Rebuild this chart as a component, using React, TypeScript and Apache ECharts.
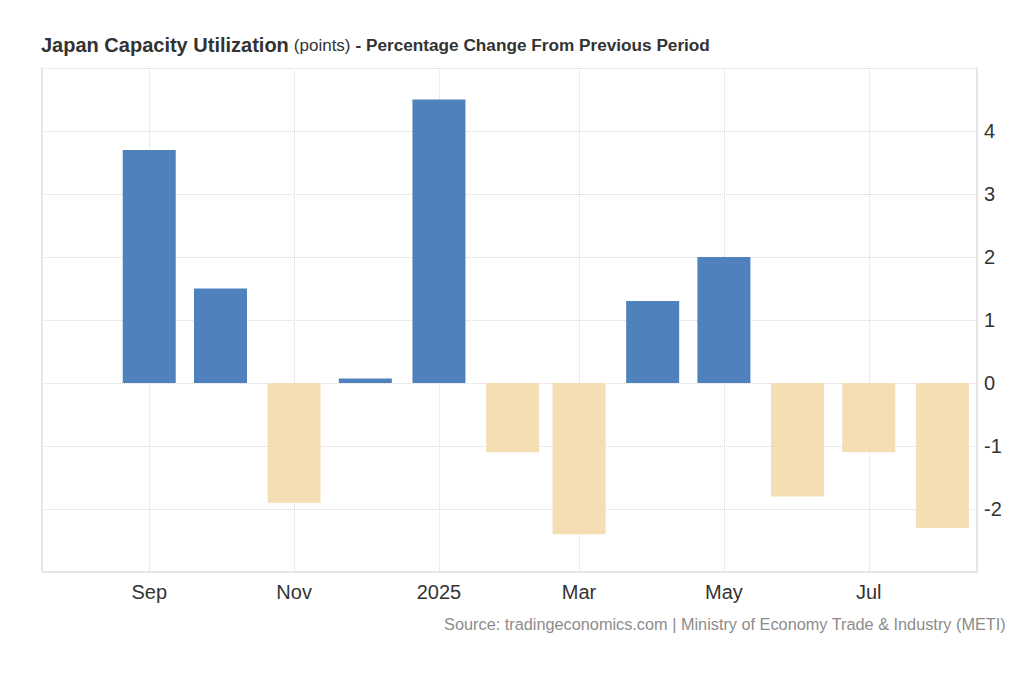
import React, { useEffect, useRef } from "react";
import * as echarts from "echarts";

const months = [
  "2024-09-01", "2024-10-01", "2024-11-01", "2024-12-01",
  "2025-01-01", "2025-02-01", "2025-03-01", "2025-04-01",
  "2025-05-01", "2025-06-01", "2025-07-01", "2025-08-01",
];
const values = [3.7, 1.5, -1.9, 0.07, 4.5, -1.1, -2.4, 1.3, 2.0, -1.8, -1.1, -2.3];
const monthNames = ["Jan", "Feb", "Mar", "Apr", "May", "Jun", "Jul", "Aug", "Sep", "Oct", "Nov", "Dec"];

const POS = "#4f81bd";
const NEG = "#f5deb3";
const FONT = "'Liberation Sans', Arial, sans-serif";

export default function App() {
  const ref = useRef<HTMLDivElement>(null);
  useEffect(() => {
    if (!ref.current) return;
    const chart = echarts.init(ref.current, null, { renderer: "svg" });
    chart.setOption({
      animation: false,
      backgroundColor: "#ffffff",
      textStyle: { fontFamily: FONT },
      title: [
        {
          left: 36,
          top: 30,
          text:
            "{a|Japan Capacity Utilization} {b|(points)} {c|- Percentage Change From Previous Period}",
          textStyle: {
            fontFamily: FONT,
            rich: {
              a: { fontSize: 20, fontWeight: "bold", color: "#333333", fontFamily: FONT },
              b: { fontSize: 17, fontWeight: "normal", color: "#333333", fontFamily: FONT },
              c: { fontSize: 17.2, fontWeight: "bold", color: "#333333", fontFamily: FONT },
            },
          },
        },
        {
          right: 13,
          top: 611,
          text: "Source: tradingeconomics.com | Ministry of Economy Trade & Industry (METI)",
          textStyle: { fontSize: 16.3, fontWeight: "normal", color: "#8c8c8c", fontFamily: FONT },
        },
      ],
      grid: { left: 42, right: 47, top: 68, bottom: 128 },
      xAxis: {
        type: "time",
        min: "2024-07-29",
        max: "2025-08-04 10:00",
        splitNumber: 6,
        axisLine: { show: true, onZero: false, lineStyle: { color: "#e6e6e6", width: 2 } },
        axisTick: { show: false },
        axisLabel: {
          margin: 10,
          fontSize: 20,
          color: "#333333",
          fontFamily: FONT,
          hideOverlap: false,
          formatter: (v: number) => {
            const d = new Date(v);
            return d.getMonth() === 0 ? String(d.getFullYear()) : monthNames[d.getMonth()];
          },
        },
        splitLine: { show: true, lineStyle: { color: "#d9d9d9", type: "dotted", width: 1 } },
      },
      yAxis: [
        {
          type: "value",
          position: "right",
          min: -3,
          max: 5,
          interval: 1,
          axisLine: { show: true, lineStyle: { color: "#e6e6e6", width: 2 } },
          axisTick: { show: false },
          axisLabel: {
            margin: 7,
            fontSize: 20,
            color: "#333333",
            fontFamily: FONT,
            showMinLabel: false,
            showMaxLabel: false,
          },
          splitLine: { show: true, lineStyle: { color: "#d9d9d9", type: "dotted", width: 1 } },
        },
        {
          type: "value",
          position: "left",
          min: -3,
          max: 5,
          interval: 1,
          axisLine: { show: true, onZero: false, lineStyle: { color: "#e6e6e6", width: 2 } },
          axisTick: { show: false },
          axisLabel: { show: false },
          splitLine: { show: false },
        },
      ],
      series: [
        {
          type: "bar",
          yAxisIndex: 0,
          barWidth: 53,
          data: months.map((m, i) => ({
            value: [m, values[i]],
            itemStyle: { color: values[i] >= 0 ? POS : NEG },
          })),
        },
      ],
    });
    return () => chart.dispose();
  }, []);
  return (
    <div
      ref={ref}
      style={{ position: "fixed", left: 0, top: 0, width: 1024, height: 700, background: "#fff" }}
    />
  );
}
